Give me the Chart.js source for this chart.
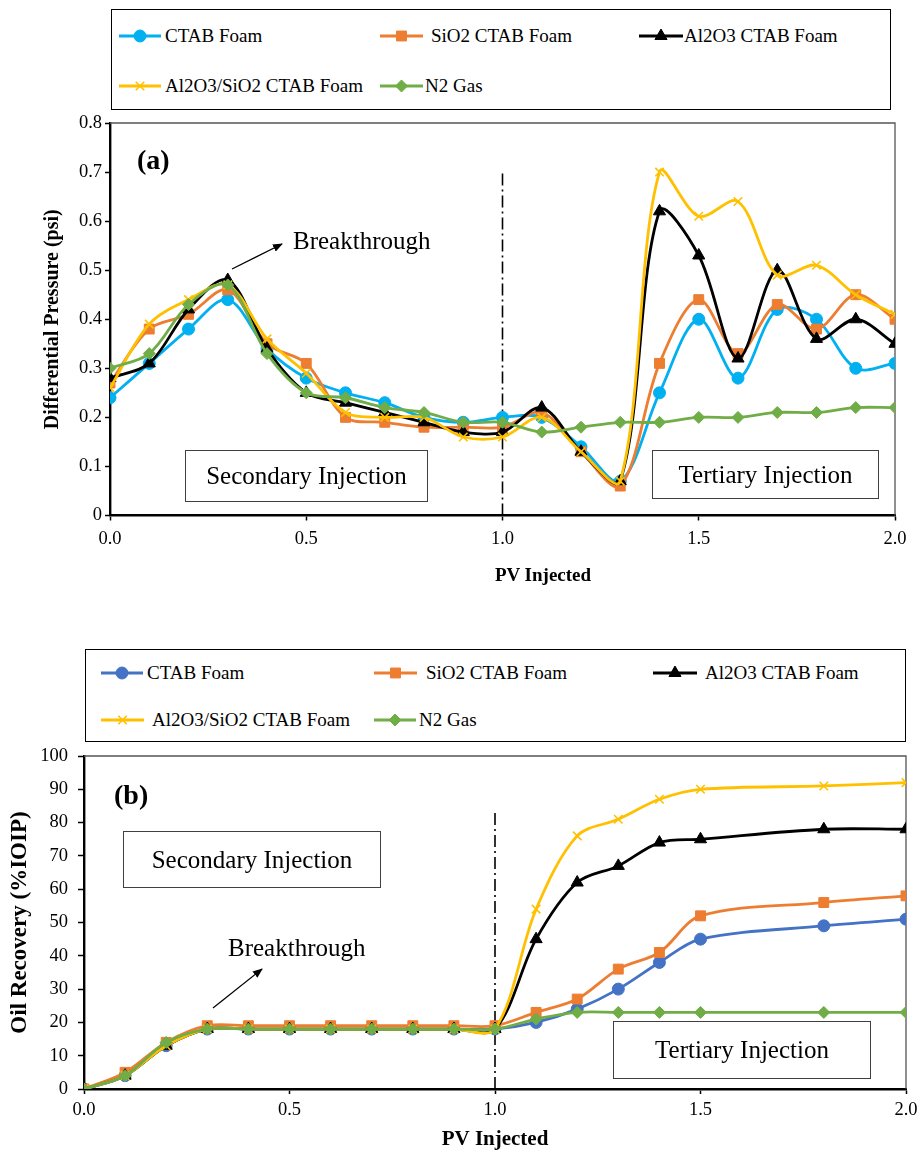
<!DOCTYPE html>
<html>
<head>
<meta charset="utf-8">
<script src="https://cdn.jsdelivr.net/npm/chart.js@4.4.1/dist/chart.umd.min.js"></script>
<style>
  body { margin: 0; background: #fff; font-family: "Liberation Serif", "Times New Roman", serif; color: #000; }
  #page { position: relative; width: 921px; height: 1155px; overflow: hidden; }
  .legend { position: absolute; border: 1.5px solid #000; box-sizing: border-box; }
  .item { position: absolute; height: 24px; display: flex; align-items: center; font-size: 19px; white-space: nowrap; }
  .item canvas { display: block; }
  .note { position: absolute; border: 1.3px solid #404040; box-sizing: border-box; display: flex; align-items: center; justify-content: center; font-size: 25px; white-space: nowrap; }
  .lbl { position: absolute; font-size: 25px; line-height: 30px; white-space: nowrap; }
  .panel { position: absolute; font-size: 28px; line-height: 30px; font-weight: bold; }
  .xtitle { position: absolute; font-size: 19px; line-height: 24px; font-weight: bold; white-space: nowrap; transform: translateX(-50%); }
  canvas.plot { position: absolute; left: 0; }
  svg { position: absolute; left: 0; top: 0; }
</style>
</head>
<body>
<div id="page">
  <div class="legend" id="legA" style="left:111px; top:9px; width:780px; height:101px;"></div>
  <div class="legend" id="legB" style="left:85px; top:649px; width:821px; height:93px;"></div>

  <canvas class="plot" id="chartA" width="921" height="495" style="top:100px;"></canvas>
  <canvas class="plot" id="chartB" width="921" height="425" style="top:730px;"></canvas>

  <div class="xtitle" style="left:543px; top:563px;">PV Injected</div>

  <div class="panel" style="left:137px; top:145px;">(a)</div>
  <div class="panel" style="left:114px; top:780px;">(b)</div>

  <div class="lbl" style="left:293px; top:226px;">Breakthrough</div>
  <div class="lbl" style="left:228px; top:933px;">Breakthrough</div>

  <div class="note" style="left:185px; top:450px; width:243px; height:52px;">Secondary Injection</div>
  <div class="note" style="left:652px; top:450px; width:227px; height:49px;">Tertiary Injection</div>
  <div class="note" style="left:123px; top:831px; width:258px; height:57px;">Secondary Injection</div>
  <div class="note" style="left:613px; top:1021px; width:258px; height:58px;">Tertiary Injection</div>

  <svg width="921" height="1155">
    <defs>
      <marker id="head" markerWidth="10" markerHeight="8" refX="9" refY="4" orient="auto" markerUnits="userSpaceOnUse">
        <path d="M0,0 L10,4 L0,8 z" fill="#000"/>
      </marker>
    </defs>
    <line x1="232" y1="269" x2="282" y2="244" stroke="#000" stroke-width="1.3" marker-end="url(#head)"/>
    <line x1="213" y1="1008" x2="262" y2="969" stroke="#000" stroke-width="1.3" marker-end="url(#head)"/>
  </svg>
</div>

<script>
// ---- data: (a) differential pressure vs PV injected ----
const pvA = [0.0, 0.1, 0.2, 0.3, 0.4, 0.5, 0.6, 0.7, 0.8, 0.9, 1.0, 1.1, 1.2, 1.3, 1.4, 1.5, 1.6, 1.7, 1.8, 1.9, 2.0];
const ctabA  = [0.24, 0.31, 0.38, 0.44, 0.34, 0.28, 0.25, 0.23, 0.20, 0.19, 0.20, 0.20, 0.14, 0.07, 0.25, 0.40, 0.28, 0.42, 0.40, 0.30, 0.31];
const sio2A  = [0.27, 0.38, 0.41, 0.46, 0.35, 0.31, 0.20, 0.19, 0.18, 0.18, 0.18, 0.21, 0.13, 0.06, 0.31, 0.44, 0.33, 0.43, 0.38, 0.45, 0.40];
const al2o3A = [0.28, 0.31, 0.42, 0.48, 0.34, 0.25, 0.23, 0.21, 0.19, 0.17, 0.17, 0.22, 0.13, 0.07, 0.62, 0.53, 0.32, 0.50, 0.36, 0.40, 0.35];
const mixA   = [0.26, 0.39, 0.44, 0.47, 0.36, 0.29, 0.21, 0.20, 0.20, 0.16, 0.16, 0.20, 0.13, 0.07, 0.70, 0.61, 0.64, 0.49, 0.51, 0.45, 0.41];
const n2A    = [0.30, 0.33, 0.43, 0.47, 0.33, 0.25, 0.24, 0.22, 0.21, 0.19, 0.19, 0.17, 0.18, 0.19, 0.19, 0.20, 0.20, 0.21, 0.21, 0.22, 0.22];

// ---- data: (b) oil recovery vs PV injected ----
const pvB = [0.0, 0.1, 0.2, 0.3, 0.4, 0.5, 0.6, 0.7, 0.8, 0.9, 1.0, 1.1, 1.2, 1.3, 1.4, 1.5, 1.8, 2.0];
const ctabB  = [0, 4, 13, 18, 18, 18, 18, 18, 18, 18, 18, 20, 24, 30, 38, 45, 49, 51];
const sio2B  = [0, 5, 14, 19, 19, 19, 19, 19, 19, 19, 19, 23, 27, 36, 41, 52, 56, 58];
const al2o3B = [0, 4, 13, 18, 18, 18, 18, 18, 18, 18, 18, 45, 62, 67, 74, 75, 78, 78];
const mixB   = [0, 4, 13, 18, 18, 18, 18, 18, 18, 18, 18, 54, 76, 81, 87, 90, 91, 92];
const n2B    = [0, 4, 14, 18, 18, 18, 18, 18, 18, 18, 18, 21, 23, 23, 23, 23, 23, 23];

const seriesNames = ["CTAB Foam", "SiO2 CTAB Foam", "Al2O3 CTAB Foam", "Al2O3/SiO2 CTAB Foam", "N2 Gas"];

// injection switch line (x) and how high it is drawn in each panel
const switchPV = 1.0;
const switchTopA = 0.705;
const switchTopB = 84;

const yTicksA = [0, 0.8, 0.1];   // min, max, step
const yTicksB = [0, 100, 10];

const FONT = '"Liberation Serif", "Times New Roman", serif';

// marker look for each series (same order as seriesNames)
const markers = [
  { style: "circle",   radius: 6,   width: 1 },
  { style: "rect",     radius: 7,   width: 1 },
  { style: "triangle", radius: 7,   width: 1 },
  { style: "crossRot", radius: 6,   width: 1.6 },
  { style: "rectRot",  radius: 6,   width: 1 },
];

function toPoints(xs, ys) {
  return xs.map((x, i) => ({ x: x, y: ys[i] }));
}

// plot frame: top and right edges in dark grey
const framePlugin = {
  id: "frame",
  beforeDatasetsDraw(chart) {
    const { ctx, chartArea: a } = chart;
    ctx.save();
    ctx.strokeStyle = "#555";
    ctx.lineWidth = 1.3;
    ctx.beginPath();
    ctx.moveTo(a.left, a.top);
    ctx.lineTo(a.right, a.top);
    ctx.lineTo(a.right, a.bottom);
    ctx.stroke();
    ctx.restore();
  },
};

function makeChart(id, cfg) {
  const datasets = cfg.values.map((vals, i) => ({
    label: seriesNames[i],
    data: toPoints(cfg.pv, vals),
    borderColor: cfg.colors[i],
    backgroundColor: cfg.colors[i],
    pointBackgroundColor: cfg.colors[i],
    pointBorderColor: cfg.colors[i],
    pointStyle: markers[i].style,
    pointRadius: markers[i].radius,
    pointBorderWidth: markers[i].width,
    borderWidth: 2.8,
    tension: 0.33,
    fill: false,
    order: 5 - i,
  }));

  datasets.push({
    label: "switch",
    data: [{ x: switchPV, y: 0 }, { x: switchPV, y: cfg.switchTop }],
    borderColor: "#000",
    borderWidth: 1.6,
    borderDash: [12, 4, 2, 4],
    pointRadius: 0,
    tension: 0,
    order: 10,
  });

  return new Chart(document.getElementById(id), {
    type: "line",
    data: { datasets },
    plugins: [framePlugin],
    options: {
      responsive: false,
      animation: false,
      layout: { padding: { top: cfg.padTop, right: cfg.padRight, left: 0, bottom: 0 } },
      plugins: { legend: { display: false }, tooltip: { enabled: false } },
      scales: {
        x: {
          type: "linear",
          min: 0,
          max: 2,
          ticks: {
            stepSize: 0.5,
            color: "#000",
            padding: cfg.xTickPad,
            maxRotation: 0,
            font: { family: FONT, size: 18.5 },
            callback: (v) => v.toFixed(1),
          },
          grid: { drawOnChartArea: false, tickLength: 5, tickColor: "#000", tickWidth: 1.5 },
          border: { color: "#000", width: 2.6 },
          title: {
            display: cfg.xTitle,
            text: "PV Injected",
            color: "#000",
            font: { family: FONT, size: cfg.xTitleSize, weight: "bold" },
            padding: { top: 0, bottom: cfg.xTitlePad },
          },
          afterFit: (s) => {
            s.height = cfg.xHeight;
            s.paddingLeft = 0;
            s.paddingRight = 0;
          },
        },
        y: {
          min: cfg.yTicks[0],
          max: cfg.yTicks[1],
          ticks: {
            stepSize: cfg.yTicks[2],
            color: "#000",
            padding: cfg.yTickPad,
            font: { family: FONT, size: 18.5 },
            callback: cfg.yFormat,
          },
          grid: { drawOnChartArea: false, tickLength: cfg.yTickLen, tickColor: "#000", tickWidth: 1.5 },
          border: { color: "#000", width: 2.4 },
          title: {
            display: true,
            text: cfg.yTitle,
            color: "#000",
            font: { family: FONT, size: cfg.yTitleSize, weight: "bold" },
            padding: { top: cfg.yTitlePad, bottom: 0 },
          },
          afterFit: (s) => {
            s.width = cfg.yWidth;
            s.paddingTop = 0;
            s.paddingBottom = 0;
          },
        },
      },
    },
  });
}

makeChart("chartA", {
  pv: pvA,
  values: [ctabA, sio2A, al2o3A, mixA, n2A],
  colors: ["#00B0F0", "#ED7D31", "#000000", "#FFC000", "#70AD47"],
  switchTop: switchTopA,
  yTicks: yTicksA,
  yFormat: (v) => (v === 0 ? "0" : v.toFixed(1)),
  yTitle: "Differential Pressure (psi)",
  yTitleSize: 20,
  xTitle: false,
  xTitleSize: 19,
  padTop: 23,
  padRight: 26,
  xHeight: 79.5,
  yWidth: 110,
  xTickPad: 8,
  yTickPad: 3,
  yTickLen: 5,
  xTitlePad: 8.6,
  yTitlePad: 41,
});

makeChart("chartB", {
  pv: pvB,
  values: [ctabB, sio2B, al2o3B, mixB, n2B],
  colors: ["#4472C4", "#ED7D31", "#000000", "#FFC000", "#70AD47"],
  switchTop: switchTopB,
  yTicks: yTicksB,
  yFormat: (v) => String(Math.round(v)),
  yTitle: "Oil Recovery (%IOIP)",
  yTitleSize: 23,
  xTitle: true,
  xTitleSize: 21,
  padTop: 26,
  padRight: 15,
  xHeight: 66,
  yWidth: 84,
  xTickPad: 5,
  yTickPad: 10,
  yTickLen: 6,
  xTitlePad: 2.4,
  yTitlePad: 6,
});

// ---- legends (HTML boxes, markers drawn with Chart.js point helper) ----
function legendItem(box, i, color, row, lineStart, lineEnd, textStart, boxLeft, boxTop) {
  const el = document.createElement("div");
  el.className = "item";
  el.style.left = (lineStart - boxLeft) + "px";
  el.style.top = (row - boxTop - 12) + "px";
  const c = document.createElement("canvas");
  const w = lineEnd - lineStart;
  c.width = w;
  c.height = 20;
  const ctx = c.getContext("2d");
  ctx.strokeStyle = color;
  ctx.fillStyle = color;
  ctx.lineWidth = 3;
  ctx.beginPath();
  ctx.moveTo(0, 10);
  ctx.lineTo(w, 10);
  ctx.stroke();
  const m = markers[i];
  ctx.lineWidth = m.width;
  if (Chart.helpers && Chart.helpers.drawPoint) {
    Chart.helpers.drawPoint(ctx, { pointStyle: m.style, radius: m.radius, borderWidth: m.width, rotation: 0 }, w / 2, 10);
  } else {
    ctx.beginPath();
    ctx.arc(w / 2, 10, m.radius, 0, Math.PI * 2);
    ctx.fill();
  }
  el.appendChild(c);
  const t = document.createElement("span");
  t.textContent = seriesNames[i];
  t.style.marginLeft = (textStart - lineEnd) + "px";
  el.appendChild(t);
  box.appendChild(el);
}

const legA = document.getElementById("legA");
const colA = ["#00B0F0", "#ED7D31", "#000000", "#FFC000", "#70AD47"];
legendItem(legA, 0, colA[0], 35, 118, 160, 164, 111, 9);
legendItem(legA, 1, colA[1], 35, 379, 422, 430, 111, 9);
legendItem(legA, 2, colA[2], 35, 638, 682, 683, 111, 9);
legendItem(legA, 3, colA[3], 85, 118, 160, 164, 111, 9);
legendItem(legA, 4, colA[4], 85, 379, 422, 424, 111, 9);

const legB = document.getElementById("legB");
const colB = ["#4472C4", "#ED7D31", "#000000", "#FFC000", "#70AD47"];
legendItem(legB, 0, colB[0], 672, 100, 142, 146, 85, 649);
legendItem(legB, 1, colB[1], 672, 373, 416, 425, 85, 649);
legendItem(legB, 2, colB[2], 672, 652, 696, 704, 85, 649);
legendItem(legB, 3, colB[3], 719, 100, 143, 151, 85, 649);
legendItem(legB, 4, colB[4], 719, 373, 415, 418, 85, 649);
</script>
</body>
</html>
